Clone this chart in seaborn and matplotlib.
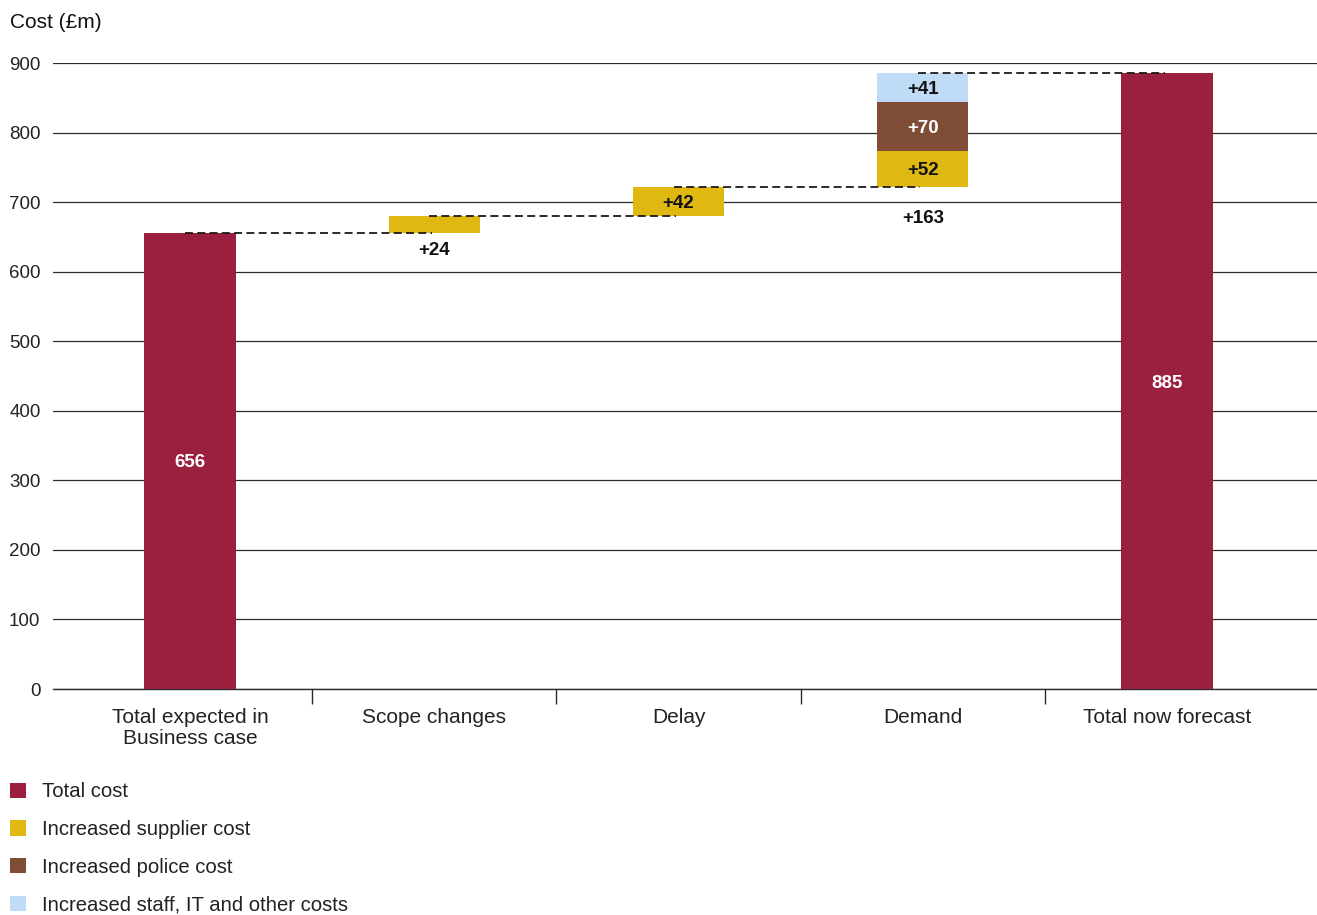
import matplotlib
matplotlib.use("Agg")
import matplotlib.pyplot as plt
from matplotlib.patches import Patch
from matplotlib.ticker import FixedLocator
import seaborn as sns
import pandas as pd

# Cost build-up, £m
categories = ["Total expected in\nBusiness case", "Scope changes", "Delay", "Demand", "Total now forecast"]
business_case_total = 656
scope_supplier = 24
delay_supplier = 42
demand_supplier = 52
demand_police = 70
demand_staff = 41
forecast_total = 885
demand_total = 163

components = ["Total cost", "Increased supplier cost", "Increased police cost",
              "Increased staff, IT and other costs"]
colors = {"Total cost": "#9b2040",
          "Increased supplier cost": "#dfb812",
          "Increased police cost": "#7f4c35",
          "Increased staff, IT and other costs": "#bfdbf5"}

# Segments in drawing order: (category, component, value)
segments = pd.DataFrame({
    "category": [categories[0], categories[1], categories[2],
                 categories[3], categories[3], categories[3], categories[4]],
    "component": [components[0], components[1], components[1],
                  components[1], components[2], components[3], components[0]],
    "value": [business_case_total, scope_supplier, delay_supplier,
              demand_supplier, demand_police, demand_staff, forecast_total],
})

# Bottoms: totals start at zero, increments stack on the running total
bottoms = []
running = 0
for _, row in segments.iterrows():
    if row["component"] == "Total cost":
        bottoms.append(0)
        running = row["value"]
    else:
        bottoms.append(running)
        running += row["value"]
segments["bottom"] = bottoms

sns.set_theme(style="white")
plt.rcParams["font.family"] = ["Liberation Sans", "DejaVu Sans"]

fig = plt.figure(figsize=(13.17, 9.15), dpi=100)
ax = fig.add_axes([53 / 1317, 226 / 915, (1317 - 53) / 1317, 626 / 915])

for i, row in segments.iterrows():
    sns.barplot(data=segments.iloc[[i]], x="category", y="value", order=categories,
                color=colors[row["component"]], saturation=1, width=0.373,
                bottom=row["bottom"], ax=ax, zorder=3, linewidth=0)

# Dashed connectors between category centres at the running total
levels = [business_case_total,
          business_case_total + scope_supplier,
          business_case_total + scope_supplier + delay_supplier,
          forecast_total]
for i, lvl in enumerate(levels):
    ax.plot([i - 0.02, i + 0.99], [lvl, lvl], color="#1a1a1a", lw=1.3,
            linestyle=(0, (4.4, 2.4)), zorder=4)

# Value labels
lab_kw = dict(ha="center", va="center_baseline", fontsize=13.5, fontweight="bold", zorder=5)
ax.text(0, business_case_total / 2, f"{business_case_total}", color="white", **lab_kw)
ax.text(4, forecast_total / 2, f"{forecast_total}", color="white", **lab_kw)
ax.text(1, business_case_total - 22, f"+{scope_supplier}", color="#111111", **lab_kw)
b = business_case_total + scope_supplier
ax.text(2, b + delay_supplier / 2, f"+{delay_supplier}", color="#111111", **lab_kw)
b += delay_supplier
ax.text(3, b - 42, f"+{demand_total}", color="#111111", **lab_kw)
ax.text(3, b + demand_supplier / 2, f"+{demand_supplier}", color="#111111", **lab_kw)
b += demand_supplier
ax.text(3, b + demand_police / 2, f"+{demand_police}", color="white", **lab_kw)
b += demand_police
ax.text(3, b + demand_staff / 2, f"+{demand_staff}", color="#111111", **lab_kw)

# Axes styling
ax.set_xlim(-0.561, 4.614)
ax.set_ylim(0, 900)
ax.set_yticks(range(0, 901, 100))
ax.yaxis.grid(True, color="#2b2b2b", lw=0.9)
ax.set_axisbelow(True)
for s in ["top", "left", "right"]:
    ax.spines[s].set_visible(False)
ax.spines["bottom"].set_color("#2b2b2b")
ax.spines["bottom"].set_linewidth(1.0)
ax.set_xlabel("")
ax.set_ylabel("")
ax.tick_params(axis="y", length=0, pad=9, labelsize=13.5, labelcolor="#222222")
ax.tick_params(axis="x", which="major", length=0, pad=14, labelsize=15, labelcolor="#222222")
ax.xaxis.set_minor_locator(FixedLocator([0.5, 1.5, 2.5, 3.5]))
ax.tick_params(axis="x", which="minor", length=11, width=1.0, color="#2b2b2b", bottom=True)
for lbl in ax.get_xticklabels():
    lbl.set_linespacing(1.1)

fig.text(10 / 1317, 1 - 23 / 915, "Cost (£m)", ha="left", va="center",
         fontsize=15, color="#111111")

handles = [Patch(facecolor=colors[c], edgecolor="none", label=c) for c in components]
fig.legend(handles=handles, loc="upper left", bbox_to_anchor=(-4 / 1317, 1 - 768 / 915),
           frameon=False, fontsize=14.6, handlelength=0.78, handleheight=0.78,
           handletextpad=0.8, labelspacing=0.93, borderpad=0.2, labelcolor="#222222")

fig.savefig("out.png", dpi=100)
